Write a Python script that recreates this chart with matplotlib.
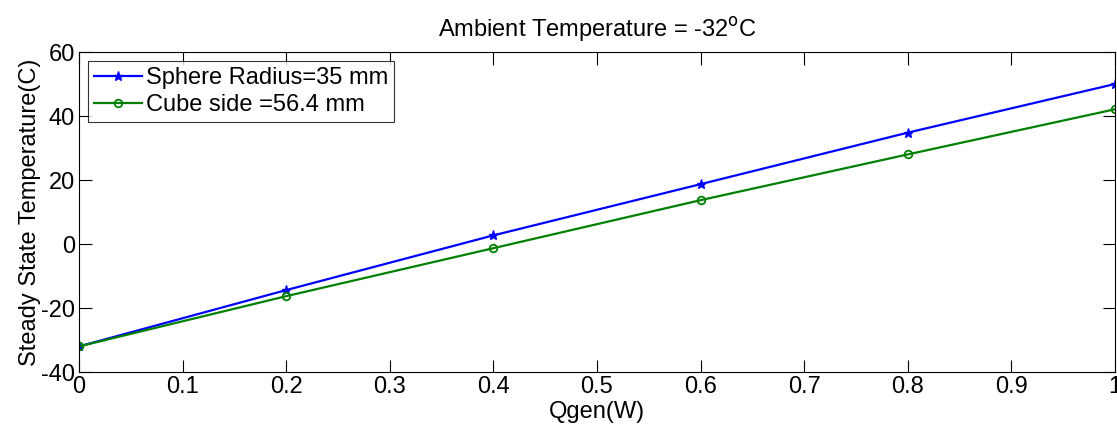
import numpy as np
import matplotlib.pyplot as plt

plt.rcParams['font.family'] = ['Liberation Sans', 'DejaVu Sans']
plt.rcParams['axes.unicode_minus'] = False

# Values
qgen = [0, 0.2, 0.4, 0.6, 0.8, 1.0]
sphere_temp = [-32, -14.4, 2.7, 18.7, 34.8, 50.0]
cube_temp = [-32, -16.3, -1.3, 13.7, 28.0, 42.1]
x_ticks = [0, 0.1, 0.2, 0.3, 0.4, 0.5, 0.6, 0.7, 0.8, 0.9, 1]
y_ticks = [-40, -20, 0, 20, 40, 60]

fig = plt.figure(figsize=(11.17, 4.28), dpi=100)
ax = fig.add_axes([0.0707, 0.1308, 0.9275, 0.7477])

ax.plot(qgen, sphere_temp, color='blue', marker='*', markersize=6.5, linewidth=1.6,
        label='Sphere Radius=35 mm')
ax.plot(qgen, cube_temp, color='green', marker='o', markersize=5.5, markerfacecolor='none',
        markeredgewidth=1.3, linewidth=1.6, label='Cube side =56.4 mm')

ax.set_xlim(0, 1)
ax.set_ylim(-40, 60)
ax.set_xticks(x_ticks)
ax.set_xticklabels([f'{t:g}' for t in x_ticks])
ax.set_yticks(y_ticks)
ax.tick_params(direction='in', top=True, right=True, labelsize=17, length=9, pad=3)
for s in ax.spines.values():
    s.set_linewidth(0.8)

ax.set_xlabel('Qgen(W)', fontsize=17, labelpad=2)
ax.set_ylabel('Steady State Temperature(C)', fontsize=17, labelpad=0)
ax.set_title('Ambient Temperature = -32$^{\\mathrm{o}}$C', fontsize=17, pad=11)

leg = ax.legend(loc='upper left', fontsize=17, frameon=True, fancybox=False,
                edgecolor='black', borderpad=0.25, handlelength=2.0, handletextpad=0.2,
                labelspacing=0.2, borderaxespad=0.4)
leg.get_frame().set_linewidth(0.8)

plt.savefig('out.png', dpi=100)
